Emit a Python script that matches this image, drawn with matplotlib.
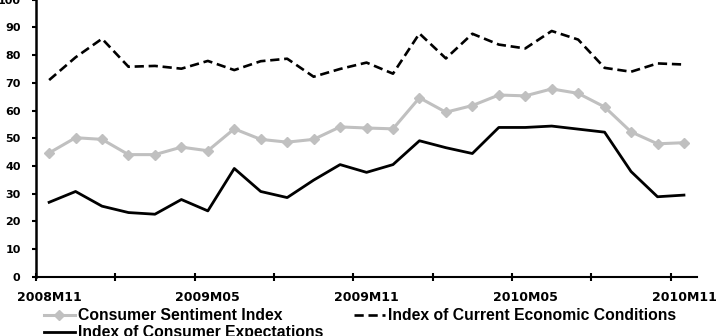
import matplotlib
matplotlib.use("Agg")
import matplotlib.pyplot as plt
import numpy as np

# months shown on the category axis (2008M11 .. 2010M11)
months = ["2008M11", "2008M12", "2009M01", "2009M02", "2009M03", "2009M04",
          "2009M05", "2009M06", "2009M07", "2009M08", "2009M09", "2009M10",
          "2009M11", "2009M12", "2010M01", "2010M02", "2010M03", "2010M04",
          "2010M05", "2010M06", "2010M07", "2010M08", "2010M09", "2010M10",
          "2010M11"]

sentiment = [44.7, 50.2, 49.6, 44.1, 44.1, 46.8, 45.5, 53.4, 49.6, 48.6, 49.6, 54.1,
             53.7, 53.4, 64.6, 59.4, 61.8, 65.6, 65.3, 67.8, 66.2, 61.3, 52.3, 48.0, 48.4]
current = [71.0, 79.2, 85.9, 75.8, 76.1, 75.1, 77.9, 74.6, 77.8, 78.7, 72.2, 75.0,
           77.3, 73.3, 87.8, 78.8, 87.7, 83.8, 82.4, 88.7, 85.6, 75.4, 74.0, 77.0, 76.6]
expectations = [26.9, 30.8, 25.5, 23.2, 22.6, 27.9, 23.8, 39.1, 30.8, 28.6, 34.9, 40.5,
                 37.7, 40.5, 49.1, 46.6, 44.5, 53.9, 53.9, 54.4, 53.3, 52.2, 38.0, 28.9, 29.5]

labels_every = 6
ticks_every = 3

x = np.arange(len(months))

fig = plt.figure(figsize=(7.18, 3.36), dpi=100)
ax = fig.add_axes([0.050, 0.176, 0.921, 0.825])

l_sent, = ax.plot(x, sentiment, color="#c0c0c0", lw=2.2, marker="D", ms=5.5,
                  label="Consumer Sentiment Index")
l_cur, = ax.plot(x, current, color="black", lw=1.9, ls=(0, (3.5, 1.8)),
                 label="Index of Current Economic Conditions")
l_exp, = ax.plot(x, expectations, color="black", lw=2.0,
                 label="Index of Consumer Expectations")

ax.set_xlim(-0.5, len(months) - 0.5)
ax.set_ylim(0, 100)

# y axis
ax.set_yticks(np.arange(0, 101, 10))
ax.tick_params(axis="y", direction="out", length=3, width=1.5, pad=8,
               labelsize=8, labelcolor="black")
for t in ax.get_yticklabels():
    t.set_fontweight("bold")

# x axis: tick marks between categories, labels on every 6th month
ax.set_xticks(np.arange(-0.5, len(months) - 1, ticks_every))
ax.set_xticklabels([])
ax.tick_params(axis="x", which="major", direction="inout", length=6, width=1.5)
ax.set_xticks(x[::labels_every], minor=True)
ax.set_xticklabels(months[::labels_every], minor=True, fontsize=9, fontweight="bold")
ax.tick_params(axis="x", which="minor", length=0, pad=10)

for s in ["top", "right"]:
    ax.spines[s].set_visible(False)
ax.spines["left"].set_linewidth(1.8)
ax.spines["bottom"].set_linewidth(1.5)

# columns fill first: sentiment + expectations left, current right
leg = fig.legend([l_sent, l_exp, l_cur],
                 [l_sent.get_label(), l_exp.get_label(), l_cur.get_label()],
                 loc="upper left", bbox_to_anchor=(0.061, 0.083), ncol=2,
                 frameon=False, handlelength=2.0, handletextpad=0.2,
                 columnspacing=1.9, labelspacing=0.15, borderpad=0, borderaxespad=0,
                 prop={"family": "Liberation Sans", "weight": "bold", "size": 11.3})

fig.savefig("out.png", dpi=100)
